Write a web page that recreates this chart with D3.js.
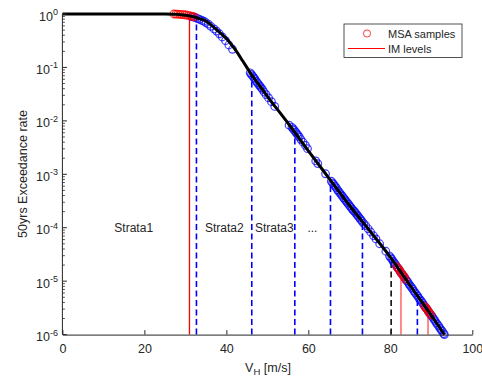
<!DOCTYPE html>
<html><head><meta charset="utf-8">
<script src="https://cdn.jsdelivr.net/npm/d3@7"></script>
<style>body{margin:0;background:#fff}svg{display:block;font-family:"Liberation Sans",Arial,Helvetica,sans-serif}</style>
</head><body><svg id="c" width="482" height="379"></svg>
<script>
// ---- data (log10 of 50yr exceedance rate) ----
const curveV   = [0,10,20,25,27,28,29,30,31,32,33,34,35,36,38,40,42,44,46,48,50,55,60,65,70,75,80,85,90,93.2];
const curveLog = [0,0,0,0,-0.003,-0.007,-0.013,-0.022,-0.035,-0.052,-0.075,-0.10,-0.13,-0.19,-0.32,-0.46,-0.65,-0.88,-1.12,-1.33,-1.54,-2.04,-2.56,-3.07,-3.58,-4.06,-4.55,-5.10,-5.64,-6.0];

const blueSamples = [
 [31.5,-0.05],[32.0,-0.06],[32.5,-0.07],[33.0,-0.085],[33.5,-0.10],[34.0,-0.12],[34.5,-0.135],[35.0,-0.16],[35.6,-0.19],[36.2,-0.23],[37.0,-0.28],[37.6,-0.32],[38.3,-0.37],[39.0,-0.43],[39.8,-0.50],[40.6,-0.58],[41.5,-0.66],
 [45.8,-1.10],[46.1,-1.13],[46.4,-1.16],[46.7,-1.19],[47.0,-1.22],[47.3,-1.26],[47.6,-1.29],[47.9,-1.32],[48.2,-1.35],[48.5,-1.38],[48.8,-1.41],[49.2,-1.46],[49.7,-1.51],[50.3,-1.57],[51.0,-1.64],[51.8,-1.73],[55.3,-2.08],
 [56.0,-2.12],[56.3,-2.15],[56.6,-2.18],[56.9,-2.21],[57.2,-2.24],[57.5,-2.27],[57.8,-2.30],[58.2,-2.35],[58.7,-2.40],[59.3,-2.46],[59.8,-2.52],[61.8,-2.75],[62.3,-2.80],[64.2,-2.99],
 [65.6,-3.13],[65.9,-3.16],[66.2,-3.19],[66.5,-3.22],[66.8,-3.25],[67.1,-3.29],[67.4,-3.32],[67.7,-3.35],[68.0,-3.38],[68.3,-3.41],[68.6,-3.44],[68.9,-3.47],[69.2,-3.50],[69.5,-3.53],[69.8,-3.56],[70.1,-3.59],[70.4,-3.62],[70.7,-3.65],[71.0,-3.68],[71.3,-3.70],[71.6,-3.73],[71.9,-3.76],[72.2,-3.79],[72.5,-3.82],[72.8,-3.85],[73.1,-3.88],[73.5,-3.92],[74.0,-3.96],[74.6,-4.02],[75.2,-4.08],[75.9,-4.15],[76.5,-4.21],[77.4,-4.30],[78.9,-4.44],
 [79.8,-4.53],[80.1,-4.56],[80.4,-4.59],[80.7,-4.63],[81.0,-4.66],[81.3,-4.69],[81.6,-4.73],[81.9,-4.76],[82.2,-4.79],[82.5,-4.83],[82.8,-4.86],[83.1,-4.89],[83.4,-4.92],[83.7,-4.96],[84.0,-4.99],[84.3,-5.02],[84.6,-5.06],[84.9,-5.09],[85.2,-5.12],[85.5,-5.15],[85.8,-5.19],[86.1,-5.22],[86.4,-5.25],[86.7,-5.28],[87.0,-5.32],[87.3,-5.35],[87.6,-5.38],[87.9,-5.41],[88.2,-5.45],[88.5,-5.48],[88.8,-5.51],[89.1,-5.54],[89.4,-5.58],[89.7,-5.61],[90.0,-5.64],[90.3,-5.67],[90.6,-5.71],[90.9,-5.74],[91.2,-5.78],[91.5,-5.81],[91.8,-5.84],[92.1,-5.88],[92.4,-5.91],[92.7,-5.94],[93.0,-5.98],[93.2,-6.0]
];
const redSamples = [
 [27.2,0.0],[27.7,-0.002],[28.2,-0.004],[28.7,-0.007],[29.2,-0.010],[29.7,-0.014],[30.2,-0.019],[30.7,-0.026],[31.2,-0.034],[31.7,-0.044],[32.2,-0.055],
 [81.6,-4.73],[81.9,-4.76],[82.2,-4.79],[82.5,-4.83],[82.8,-4.86],[83.1,-4.89],[83.4,-4.92],[83.7,-4.96],
 [88.4,-5.47],[88.7,-5.50],[89.0,-5.53],[89.3,-5.57],[89.6,-5.60],[89.9,-5.63]
];
const imLevelV   = [31.0, 82.6, 89.2];
const imLevelLog = [-0.035, -4.82, -5.56];
const strataV    = [32.7, 46.2, 56.7, 65.4, 73.2, 86.6];
const strataLog  = [-0.06, -1.14, -2.20, -3.11, -3.88, -5.27];
const blackDashV = [80.2];
const blackDashLog = [-4.57];
const strataLabels = [{t:"Strata1",v:17.4},{t:"Strata2",v:39.5},{t:"Strata3",v:51.7},{t:"...",v:61.0}];
const xTicks = [0,20,40,60,80,100];
const yTickExp = [0,-1,-2,-3,-4,-5,-6];

// ---- drawing ----
const svg = d3.select("#c");
const txt = "#262626";
const x = d3.scaleLinear().domain([0,100]).range([62.4,472.3]);
const y = d3.scaleLog().domain([1e-6,1]).range([334.6,14]);
const p10 = e => Math.pow(10,e);

// vertical lines
const vl = svg.append("g");
strataV.forEach((v,i)=>{
  vl.append("line").attr("x1",x(v)).attr("x2",x(v)).attr("y1",y(1e-6)).attr("y2",y(p10(strataLog[i])))
    .attr("stroke","#0000ff").attr("stroke-width",1.6).attr("stroke-dasharray","6,3.5");
});
blackDashV.forEach((v,i)=>{
  vl.append("line").attr("x1",x(v)).attr("x2",x(v)).attr("y1",y(1e-6)).attr("y2",y(p10(blackDashLog[i])))
    .attr("stroke","#000").attr("stroke-width",1.5).attr("stroke-dasharray","6,3.5");
});
imLevelV.forEach((v,i)=>{
  vl.append("line").attr("x1",x(v)).attr("x2",x(v)).attr("y1",y(1e-6)).attr("y2",y(p10(imLevelLog[i])))
    .attr("stroke","#ff0000").attr("stroke-width",1.3).attr("stroke-opacity",i===0?1:0.7);
});

// samples
svg.append("g").selectAll("circle").data(blueSamples).join("circle")
  .attr("cx",d=>x(d[0])).attr("cy",d=>y(p10(d[1]))).attr("r",3.8)
  .attr("fill","none").attr("stroke","#0000ff").attr("stroke-opacity",0.75).attr("stroke-width",1.2);
svg.append("g").selectAll("circle").data(redSamples).join("circle")
  .attr("cx",d=>x(d[0])).attr("cy",d=>y(p10(d[1]))).attr("r",3.8)
  .attr("fill","none").attr("stroke","#ff0000").attr("stroke-opacity",0.8).attr("stroke-width",1.2);

// hazard curve
const curve = curveV.map((v,i)=>[v,curveLog[i]]);
svg.append("path").datum(curve)
  .attr("d",d3.line().x(d=>x(d[0])).y(d=>y(p10(d[1]))).curve(d3.curveMonotoneX))
  .attr("fill","none").attr("stroke","#000").attr("stroke-width",3);

// x axis
const gx = svg.append("g").attr("transform",`translate(0,${y(1e-6)})`)
  .call(d3.axisBottom(x).tickValues(xTicks).tickSizeInner(-4.5).tickSizeOuter(0).tickPadding(10).tickFormat(d3.format("d")));
gx.select(".domain").attr("stroke",txt);
gx.selectAll(".tick line").attr("stroke",txt);
gx.selectAll("text").attr("fill",txt).attr("font-size",12.5).attr("font-family",null);

// y axis
const gy = svg.append("g");
gy.append("line").attr("x1",62.4).attr("x2",62.4).attr("y1",y(1e-6)).attr("y2",y(1)).attr("stroke",txt);
yTickExp.forEach(e=>{
  const yy = y(p10(e));
  gy.append("line").attr("x1",62.4).attr("x2",66.9).attr("y1",yy).attr("y2",yy).attr("stroke",txt);
  if(e<0){
    for(let m=2;m<=9;m++){
      const ym = y(m*p10(e));
      gy.append("line").attr("x1",62.4).attr("x2",64.9).attr("y1",ym).attr("y2",ym).attr("stroke",txt).attr("stroke-width",0.8);
    }
  }
  const t = gy.append("text").attr("x",58).attr("y",yy+6.5).attr("text-anchor","end").attr("fill",txt).attr("font-size",12.5);
  t.append("tspan").text("10");
  t.append("tspan").attr("font-size",9).attr("dy",-5.5).text(String(e));
});

// strata labels
svg.append("g").selectAll("text").data(strataLabels).join("text")
  .attr("x",d=>x(d.v)).attr("y",232).attr("text-anchor","middle").attr("fill",txt).attr("font-size",12).text(d=>d.t);

// axis labels
const xl = svg.append("text").attr("x",268).attr("y",372).attr("text-anchor","middle").attr("fill",txt).attr("font-size",12.5);
xl.append("tspan").text("V");
xl.append("tspan").attr("font-size",9.5).attr("dy",3).text("H");
xl.append("tspan").attr("dy",-3).text(" [m/s]");
svg.append("text").attr("transform","translate(27,174) rotate(-90)").attr("text-anchor","middle")
  .attr("fill",txt).attr("font-size",12.5).text("50yrs Exceedance rate");

// legend
const lg = svg.append("g");
lg.append("rect").attr("x",344).attr("y",24).attr("width",118).attr("height",33.5).attr("fill","#fff").attr("stroke",txt).attr("stroke-width",0.8);
lg.append("circle").attr("cx",367).attr("cy",33.5).attr("r",3.6).attr("fill","none").attr("stroke","#ff0000").attr("stroke-opacity",0.75);
lg.append("text").attr("x",388).attr("y",38).attr("fill",txt).attr("font-size",11).text("MSA samples");
lg.append("line").attr("x1",348).attr("x2",385).attr("y1",48.5).attr("y2",48.5).attr("stroke","#ff0000");
lg.append("text").attr("x",388).attr("y",53).attr("fill",txt).attr("font-size",11).text("IM levels");
</script></body></html>
